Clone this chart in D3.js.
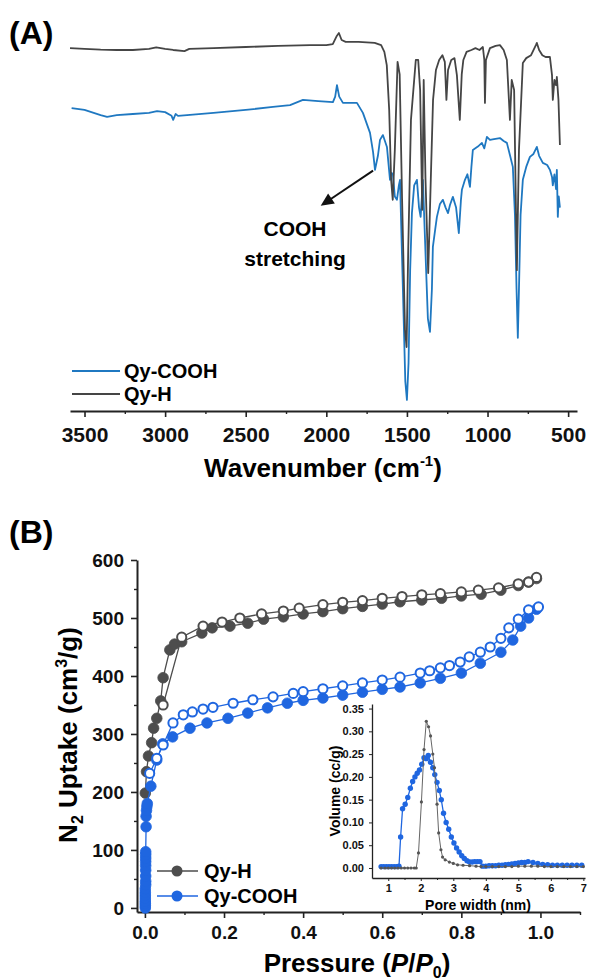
<!DOCTYPE html>
<html>
<head>
<meta charset="utf-8">
<script src="https://cdn.jsdelivr.net/npm/d3@7"></script>
<style>
  body { margin: 0; background: #fff; }
  svg { display: block; font-family: "Liberation Sans", Arial, sans-serif; font-weight: bold; }
  .axis path, .axis line { stroke: #222; }
  .axis text { fill: #111; font-family: "Liberation Sans", Arial, sans-serif; font-weight: bold; }
</style>
</head>
<body>
<div id="chart-area"></div>
<script>
// ---------- panel A : FTIR (wavenumber, transmittance a.u.) ----------
let irQyH = [[3590,95.1],[3500,94.9],[3400,94.7],[3300,94.6],[3200,94.6],[3100,94.9],[3055,95.3],[3000,94.9],[2950,94.6],[2880,94.3],[2850,94.9],[2700,95.1],[2500,95.4],[2300,95.7],[2100,95.9],[2000,95.9],[1960,96.2],[1935,98.4],[1922,99.2],[1905,97.3],[1880,96.8],[1800,96.8],[1700,96.5],[1660,95.9],[1640,94.1],[1625,90.5],[1610,78.4],[1598,59.5],[1588,54.1],[1575,67.6],[1558,91.4],[1545,88],[1530,54.1],[1512,18.9],[1502,14.3],[1492,40.5],[1475,75.7],[1445,91.9],[1430,91.9],[1418,83.8],[1405,51.4],[1396,86.5],[1385,60],[1368,34.3],[1352,59.5],[1338,81.1],[1320,89.2],[1300,91.9],[1280,93.2],[1265,91.4],[1255,81.1],[1245,89.2],[1225,91.9],[1205,92.4],[1190,87.8],[1172,75.7],[1160,88],[1150,91.9],[1130,94.1],[1100,94.6],[1075,95.1],[1050,94.6],[1029,95.4],[1020,91.9],[1016,80.3],[1010,91.9],[985,95.1],[950,95.7],[923,95.9],[900,94.6],[880,91.9],[861,75.7],[850,86.5],[835,83.8],[818,35.1],[805,67.6],[781,91.1],[760,92.4],[730,93.2],[700,95.9],[694,96.5],[680,94.6],[660,93.2],[640,92.7],[613,92.7],[600,87.8],[595,81.1],[585,86.5],[575,85.1],[570,87.3],[560,81.1],[551,68.9]];

let irQyCOOH = [[3580,78.9],[3500,78.4],[3400,77],[3360,76.5],[3300,77],[3200,77.3],[3100,77.6],[3050,78.1],[3000,77.8],[2960,76.8],[2950,75.7],[2935,77.3],[2920,76.8],[2864,77],[2700,77.6],[2500,78.4],[2331,79.2],[2225,79.7],[2145,81.1],[2050,80.8],[1959,80.5],[1945,82],[1934,85.1],[1920,82],[1897,80.3],[1810,80.3],[1773,77.6],[1729,72.2],[1710,67],[1698,62.2],[1680,66],[1667,70.3],[1649,71.6],[1624,68.4],[1605,59.5],[1595,61.4],[1587,61],[1575,55],[1562,54.1],[1550,58],[1543,59.5],[1525,30],[1510,5],[1500,0],[1490,10],[1480,35],[1469,50.5],[1455,58],[1438,59.5],[1425,52],[1415,49.5],[1407,55],[1401,59.5],[1385,40],[1370,22],[1357,18.4],[1345,30],[1339,41.4],[1325,46],[1314,49.5],[1295,53],[1277,54.1],[1260,52],[1245,50.5],[1233,52.7],[1215,54.9],[1195,52],[1178,45.1],[1165,54],[1159,56.8],[1140,59.5],[1125,61],[1109,57.6],[1100,63],[1091,67.6],[1060,68.5],[1035,69.5],[1020,68],[1004,71.1],[985,70.3],[960,70.5],[923,70.8],[900,70],[880,69.5],[860,66],[843,63],[830,50],[820,30],[812,16.8],[805,30],[795,50],[781,59.5],[760,63],[737,65.7],[715,66.5],[694,68.4],[680,66],[657,64.1],[630,63.5],[613,62.2],[600,60.3],[595,58],[585,61],[575,57],[570,62.2],[564,49.5],[558,55],[551,52]];

let wnTicks = [3500, 3000, 2500, 2000, 1500, 1000, 500];
let wnMinor = [3250, 2750, 2250, 1750, 1250, 750];

// ---------- panel B : N2 isotherms (P/P0, cm3/g) ----------
let hAds = [[0.001,198],[0.004,235],[0.009,262],[0.017,285],[0.022,310],[0.03,327],[0.04,357],[0.046,397],[0.063,445],[0.075,455],[0.093,459],[0.144,474],[0.17,483],[0.215,486],[0.26,491],[0.3,498],[0.35,502],[0.4,507],[0.45,511],[0.5,516],[0.55,520],[0.6,524],[0.645,528],[0.7,531],[0.75,534],[0.8,538],[0.85,541],[0.9,548],[0.944,556],[0.97,562],[0.99,568]];
let hDes = [[0.99,570],[0.97,562],[0.944,559],[0.894,552],[0.843,548],[0.8,545],[0.747,542],[0.7,540],[0.65,537],[0.6,534],[0.55,530],[0.5,527],[0.45,523],[0.39,517],[0.35,512],[0.295,507],[0.24,500],[0.195,493],[0.147,486],[0.093,467],[0.046,350]];
let cAds = [[0.001,0],[0.001,4],[0.001,8],[0.001,12],[0.001,17],[0.001,22],[0.001,27],[0.001,33],[0.002,40],[0.002,46],[0.002,55],[0.002,65],[0.002,73],[0.002,80],[0.002,86],[0.002,92],[0.002,97],[0.003,140],[0.003,158],[0.004,168],[0.005,175],[0.006,180],[0.015,210],[0.03,255],[0.045,283],[0.07,295],[0.114,310],[0.157,319],[0.21,327],[0.26,336],[0.31,345],[0.36,353],[0.4,358],[0.45,362],[0.5,367],[0.55,372],[0.6,377],[0.645,381],[0.696,388],[0.747,396],[0.8,405],[0.848,422],[0.9,441],[0.93,462],[0.95,486],[0.97,500],[0.99,515]];
let cDes = [[0.995,519],[0.97,514],[0.944,498],[0.92,483],[0.9,465],[0.873,450],[0.848,441],[0.82,433],[0.797,424],[0.77,418],[0.747,414],[0.72,409],[0.696,405],[0.645,398],[0.6,393],[0.55,388],[0.5,383],[0.45,378],[0.4,373],[0.375,370],[0.324,364],[0.273,359],[0.223,353],[0.172,346],[0.147,343],[0.12,338],[0.097,333],[0.071,319],[0.046,281],[0.03,258],[0.012,232]];

let pTicks = [0, 0.2, 0.4, 0.6, 0.8, 1.0];
let pMinor = [0.1, 0.3, 0.5, 0.7, 0.9, 1.1];
let vTicks = [0, 100, 200, 300, 400, 500, 600];
let vMinor = [50, 150, 250, 350, 450, 550];

// ---------- inset : pore size distribution (nm, cc/g) ----------
let poreH = [[0.78,0],[0.9,0],[1.0,0],[1.1,0],[1.2,0],[1.3,0],[1.4,0],[1.5,0],[1.6,0],[1.7,0],[1.8,0],[1.86,0.0],[1.93,0.033],[2.02,0.145],[2.1,0.26],[2.17,0.322],[2.24,0.31],[2.3,0.29],[2.37,0.25],[2.42,0.22],[2.5,0.14],[2.55,0.077],[2.62,0.04],[2.67,0.024],[2.75,0.018],[2.88,0.013],[3.0,0.01],[3.13,0.007],[3.3,0.006],[3.5,0.005],[3.7,0.004],[3.85,0.003],[4.0,0.003],[4.2,0.003],[4.4,0.003],[4.6,0.003],[4.8,0.003],[5.0,0.004],[5.2,0.004],[5.4,0.004],[5.6,0.004],[5.8,0.003],[6.0,0.003],[6.2,0.003],[6.4,0.003],[6.6,0.003],[6.8,0.003],[7.0,0.003]];
let poreCOOH = [[0.78,0.003],[0.86,0.003],[0.94,0.003],[1.02,0.003],[1.1,0.003],[1.18,0.003],[1.26,0.003],[1.33,0.004],[1.38,0.068],[1.44,0.13],[1.52,0.14],[1.6,0.155],[1.68,0.175],[1.75,0.19],[1.82,0.2],[1.89,0.208],[1.96,0.215],[2.03,0.228],[2.1,0.242],[2.17,0.24],[2.23,0.247],[2.3,0.232],[2.37,0.22],[2.43,0.205],[2.5,0.188],[2.57,0.17],[2.63,0.15],[2.7,0.12],[2.78,0.1],[2.86,0.085],[2.94,0.068],[3.02,0.055],[3.1,0.044],[3.18,0.035],[3.26,0.027],[3.34,0.021],[3.42,0.016],[3.5,0.013],[3.58,0.013],[3.66,0.014],[3.74,0.014],[3.82,0.014],[3.9,0.004],[4.0,0.004],[4.1,0.005],[4.2,0.005],[4.3,0.005],[4.4,0.006],[4.5,0.006],[4.6,0.007],[4.7,0.008],[4.8,0.009],[4.9,0.01],[5.0,0.011],[5.1,0.012],[5.2,0.012],[5.3,0.014],[5.45,0.012],[5.6,0.01],[5.75,0.008],[5.9,0.007],[6.05,0.006],[6.2,0.006],[6.35,0.006],[6.5,0.006],[6.65,0.006],[6.8,0.006],[6.95,0.006]];
let nmTicks = [1, 2, 3, 4, 5, 6, 7];
let nmMinor = [1.5, 2.5, 3.5, 4.5, 5.5, 6.5];
let ccTicks = [0, 0.05, 0.1, 0.15, 0.2, 0.25, 0.3, 0.35];

let grayIR = "#454545", blueIR = "#1f78c1";
let grayN2 = "#4d4d4d", blueN2 = "#1f66e0";

let width = 590, height = 980;
let svg = d3.select("#chart-area").append("svg")
	.attr("width", width)
	.attr("height", height);
svg.append("rect").attr("width", width).attr("height", height).attr("fill", "#fff");

// ===================== (A) =====================
let xA = d3.scaleLinear().domain([3590, 445]).range([70, 577]);
let yA = d3.scaleLinear().domain([0, 100]).range([400, 30]);
let axisAy = 411;

svg.append("text").attr("x", 9).attr("y", 44).attr("font-size", 32).text("(A)");

let lineA = d3.line().x(d => xA(d[0])).y(d => yA(d[1]));
svg.append("path").datum(irQyCOOH).attr("d", lineA)
	.attr("fill", "none").attr("stroke", blueIR).attr("stroke-width", 1.8).attr("stroke-linejoin", "round");
svg.append("path").datum(irQyH).attr("d", lineA)
	.attr("fill", "none").attr("stroke", grayIR).attr("stroke-width", 1.8).attr("stroke-linejoin", "round");

let gA = svg.append("g").attr("class", "axis").attr("transform", "translate(0," + axisAy + ")")
	.call(d3.axisBottom(xA).tickValues(wnTicks).tickFormat(d3.format("d")).tickSize(6).tickSizeOuter(0).tickPadding(10));
gA.selectAll("text").attr("font-size", 21);
gA.select(".domain").attr("stroke-width", 1.8);
gA.selectAll("line").attr("stroke-width", 1.6);
let gAm = svg.append("g").attr("class", "axis").attr("transform", "translate(0," + axisAy + ")")
	.call(d3.axisBottom(xA).tickValues(wnMinor).tickSize(3).tickFormat(""));
gAm.select(".domain").remove();
gAm.selectAll("line").attr("stroke-width", 1.4);

let tA = svg.append("text").attr("x", 323).attr("y", 477).attr("text-anchor", "middle").attr("font-size", 26);
tA.append("tspan").text("Wavenumber (cm");
tA.append("tspan").attr("font-size", 15).attr("dy", -11).text("-1");
tA.append("tspan").attr("dy", 11).text(")");

// legend A
let legA = [{name: "Qy-COOH", color: blueIR, y: 371}, {name: "Qy-H", color: grayIR, y: 394}];
legA.forEach(l => {
	svg.append("line").attr("x1", 72).attr("x2", 120).attr("y1", l.y).attr("y2", l.y)
		.attr("stroke", l.color).attr("stroke-width", 1.8);
	svg.append("text").attr("x", 124).attr("y", l.y + 7).attr("font-size", 20).text(l.name);
});

// annotation
let arrFrom = [1710, 62], arrTo = [2035, 52.5];
let ax1 = xA(arrFrom[0]), ay1 = yA(arrFrom[1]), ax2 = xA(arrTo[0]), ay2 = yA(arrTo[1]);
let ang = Math.atan2(ay2 - ay1, ax2 - ax1);
let hl = 13, hw = 6;
svg.append("line").attr("x1", ax1).attr("y1", ay1)
	.attr("x2", ax2 - Math.cos(ang) * hl * 0.8).attr("y2", ay2 - Math.sin(ang) * hl * 0.8)
	.attr("stroke", "#111").attr("stroke-width", 2);
let bx = ax2 - Math.cos(ang) * hl, by = ay2 - Math.sin(ang) * hl;
svg.append("path")
	.attr("d", "M" + ax2 + "," + ay2 +
		"L" + (bx - Math.sin(ang) * hw) + "," + (by + Math.cos(ang) * hw) +
		"L" + (bx + Math.sin(ang) * hw) + "," + (by - Math.cos(ang) * hw) + "Z")
	.attr("fill", "#111");
svg.append("text").attr("x", xA(2194)).attr("y", yA(44.3)).attr("text-anchor", "middle").attr("font-size", 21).text("COOH");
svg.append("text").attr("x", xA(2194)).attr("y", yA(36.2)).attr("text-anchor", "middle").attr("font-size", 21).text("stretching");

// ===================== (B) =====================
let xB = d3.scaleLinear().domain([-0.02, 1.1]).range([137, 580]);
let yB = d3.scaleLinear().domain([-7, 600]).range([912, 560]);

svg.append("text").attr("x", 9).attr("y", 543).attr("font-size", 32).text("(B)");

let gBx = svg.append("g").attr("class", "axis").attr("transform", "translate(0,912)")
	.call(d3.axisBottom(xB).tickValues(pTicks).tickFormat(d3.format(".1f")).tickSize(6).tickSizeOuter(0).tickPadding(8));
gBx.selectAll("text").attr("font-size", 19);
gBx.select(".domain").attr("stroke-width", 2);
gBx.selectAll("line").attr("stroke-width", 1.6);
let gBxm = svg.append("g").attr("class", "axis").attr("transform", "translate(0,912)")
	.call(d3.axisBottom(xB).tickValues(pMinor).tickSize(3).tickFormat(""));
gBxm.select(".domain").remove();
gBxm.selectAll("line").attr("stroke-width", 1.4);

let gBy = svg.append("g").attr("class", "axis").attr("transform", "translate(137,0)")
	.call(d3.axisLeft(yB).tickValues(vTicks).tickFormat(d3.format("d")).tickSize(6).tickSizeOuter(0).tickPadding(7));
gBy.selectAll("text").attr("font-size", 19);
gBy.select(".domain").attr("stroke-width", 2);
gBy.selectAll("line").attr("stroke-width", 1.6);
let gBym = svg.append("g").attr("class", "axis").attr("transform", "translate(137,0)")
	.call(d3.axisLeft(yB).tickValues(vMinor).tickSize(3).tickFormat(""));
gBym.select(".domain").remove();
gBym.selectAll("line").attr("stroke-width", 1.4);

let tBx = svg.append("text").attr("x", 357).attr("y", 972).attr("text-anchor", "middle").attr("font-size", 26);
tBx.append("tspan").text("Pressure (");
tBx.append("tspan").attr("font-style", "italic").text("P");
tBx.append("tspan").text("/");
tBx.append("tspan").attr("font-style", "italic").text("P");
tBx.append("tspan").attr("font-size", 16).attr("dy", 6).text("0");
tBx.append("tspan").attr("dy", -6).text(")");

let tBy = svg.append("text").attr("transform", "translate(77,735) rotate(-90)").attr("text-anchor", "middle").attr("font-size", 26);
tBy.append("tspan").text("N");
tBy.append("tspan").attr("font-size", 16).attr("dy", 6).text("2");
tBy.append("tspan").attr("dy", -6).text(" Uptake (cm");
tBy.append("tspan").attr("font-size", 16).attr("dy", -10).text("3");
tBy.append("tspan").attr("dy", 10).text("/g)");

let lineB = d3.line().x(d => xB(d[0])).y(d => yB(d[1]));
function isotherm(data, color, open) {
	svg.append("path").datum(data).attr("d", lineB)
		.attr("fill", "none").attr("stroke", color).attr("stroke-width", 1.3);
	svg.append("g").selectAll("circle").data(data).join("circle")
		.attr("cx", d => xB(d[0])).attr("cy", d => yB(d[1]))
		.attr("r", open ? 4.6 : 5.3)
		.attr("fill", open ? "#fff" : color)
		.attr("stroke", color).attr("stroke-width", open ? 2 : 0.8);
}
isotherm(hAds, grayN2, false);
isotherm(hDes, grayN2, true);
isotherm(cAds, blueN2, false);
isotherm(cDes, blueN2, true);

// legend B
let legB = [{name: "Qy-H", color: grayN2, y: 871}, {name: "Qy-COOH", color: blueN2, y: 896}];
legB.forEach(l => {
	svg.append("line").attr("x1", 157).attr("x2", 198).attr("y1", l.y).attr("y2", l.y)
		.attr("stroke", l.color).attr("stroke-width", 1.5);
	svg.append("circle").attr("cx", 177).attr("cy", l.y).attr("r", 5.5).attr("fill", l.color);
	svg.append("text").attr("x", 204).attr("y", l.y + 7).attr("font-size", 20).text(l.name);
});

// ===================== inset =====================
let xI = d3.scaleLinear().domain([0.5, 7.05]).range([372, 585]);
let yI = d3.scaleLinear().domain([-0.022, 0.36]).range([878, 704]);

let gIx = svg.append("g").attr("class", "axis").attr("transform", "translate(0,878)")
	.call(d3.axisBottom(xI).tickValues(nmTicks).tickFormat(d3.format("d")).tickSize(3).tickSizeOuter(0).tickPadding(3));
gIx.selectAll("text").attr("font-size", 11);
gIx.select(".domain").attr("stroke-width", 1.3);
let gIxm = svg.append("g").attr("class", "axis").attr("transform", "translate(0,878)")
	.call(d3.axisBottom(xI).tickValues(nmMinor).tickSize(2).tickFormat(""));
gIxm.select(".domain").remove();

let gIy = svg.append("g").attr("class", "axis").attr("transform", "translate(372,0)")
	.call(d3.axisLeft(yI).tickValues(ccTicks).tickFormat(d3.format(".2f")).tickSize(3).tickSizeOuter(0).tickPadding(5));
gIy.selectAll("text").attr("font-size", 11);
gIy.select(".domain").attr("stroke-width", 1.3);

svg.append("text").attr("x", 478).attr("y", 910).attr("text-anchor", "middle").attr("font-size", 14).text("Pore width (nm)");
svg.append("text").attr("transform", "translate(340,791) rotate(-90)").attr("text-anchor", "middle").attr("font-size", 14).text("Volume (cc/g)");

let lineI = d3.line().x(d => xI(d[0])).y(d => yI(d[1]));
svg.append("path").datum(poreCOOH).attr("d", lineI)
	.attr("fill", "none").attr("stroke", blueN2).attr("stroke-width", 1.3);
svg.append("g").selectAll("circle").data(poreCOOH).join("circle")
	.attr("cx", d => xI(d[0])).attr("cy", d => yI(d[1])).attr("r", 2.7).attr("fill", blueN2);
svg.append("path").datum(poreH).attr("d", lineI)
	.attr("fill", "none").attr("stroke", "#666").attr("stroke-width", 1);
svg.append("g").selectAll("circle").data(poreH).join("circle")
	.attr("cx", d => xI(d[0])).attr("cy", d => yI(d[1])).attr("r", 1.6).attr("fill", "#555");
</script>
</body>
</html>
